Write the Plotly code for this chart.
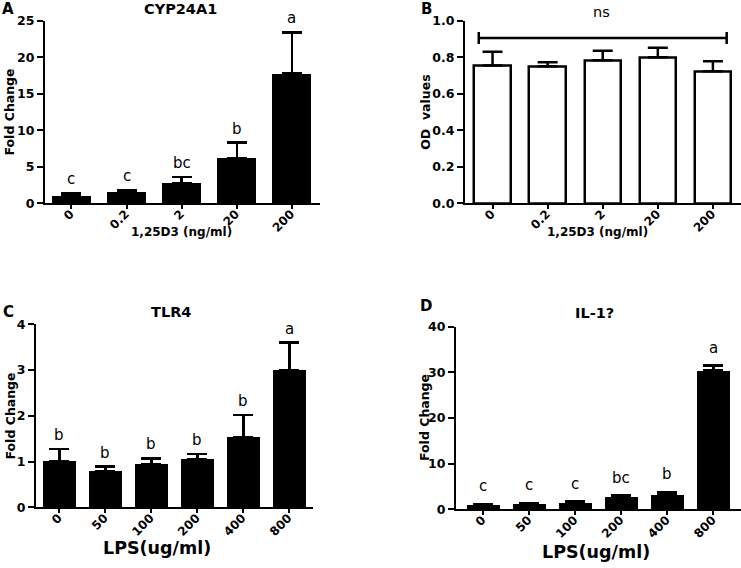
import plotly.graph_objects as go

W, H = 741, 568

# ---------------- data ----------------
A_cats = ["0", "0.2", "2", "20", "200"]
A_vals = [1.1, 1.6, 2.8, 6.2, 17.8]
A_err = [0.3, 0.2, 0.8, 2.1, 5.6]
A_letters = ["c", "c", "bc", "b", "a"]

B_cats = ["0", "0.2", "2", "20", "200"]
B_vals = [0.754, 0.750, 0.783, 0.800, 0.723]
B_err = [0.076, 0.022, 0.053, 0.052, 0.055]

C_cats = ["0", "50", "100", "200", "400", "800"]
C_vals = [1.01, 0.79, 0.95, 1.06, 1.53, 2.99]
C_err = [0.26, 0.10, 0.12, 0.10, 0.49, 0.61]
C_letters = ["b", "b", "b", "b", "b", "a"]

D_cats = ["0", "50", "100", "200", "400", "800"]
D_vals = [1.1, 1.2, 1.5, 2.7, 3.2, 30.4]
D_err = [0.1, 0.1, 0.2, 0.3, 0.6, 1.1]
D_letters = ["c", "c", "c", "bc", "b", "a"]

FONT = "DejaVu Sans"


def px_x(p):
    return p / W


def px_y(p):
    return 1 - p / H


def padded(cats):
    # left-pad with figure spaces so rotated labels end at the tick
    n = max(len(c.replace(".", "")) for c in cats)
    out = []
    for c in cats:
        digits = len(c.replace(".", ""))
        out.append("\u2007" * (n - digits) + c)
    return out


fig = go.Figure()


def add_bars(vals, err, xa, ya, fill, outline, width):
    fig.add_trace(go.Bar(
        x=list(range(len(vals))), y=vals, xaxis=xa, yaxis=ya,
        width=width,
        marker=dict(color=fill, line=dict(color=outline, width=2.5 if fill == "white" else 0)),
        error_y=dict(type="data", symmetric=False, array=err,
                     arrayminus=[0] * len(err), color="black",
                     thickness=2.5, width=10),
        showlegend=False, hoverinfo="skip"))


add_bars(A_vals, A_err, "x", "y", "black", "black", 0.71)
add_bars(B_vals, B_err, "x2", "y2", "white", "black", 0.66)
add_bars(C_vals, C_err, "x3", "y3", "black", "black", 0.71)
add_bars(D_vals, D_err, "x4", "y4", "black", "black", 0.71)

tickfont = dict(family=FONT, size=12.5, color="black", weight="bold")
xtickfont = dict(family=FONT, size=12, color="black", weight="bold")


def xax(domain_px, rng, cats):
    return dict(domain=[px_x(domain_px[0]), px_x(domain_px[1])], range=rng,
                tickvals=list(range(len(cats))), ticktext=padded(cats),
                tickangle=-45, tickfont=xtickfont,
                ticklabelstandoff=-7, ticklabelshift=-1,
                showline=True, linecolor="black", linewidth=2,
                ticks="outside", ticklen=4, tickwidth=2, tickcolor="black",
                showgrid=False, zeroline=False, fixedrange=True)


def yax(domain_px, rng, dtick, fmt=None):
    d = dict(domain=[px_y(domain_px[1]), px_y(domain_px[0])], range=rng,
             dtick=dtick, tick0=0, tickfont=tickfont,
             showline=True, linecolor="black", linewidth=2,
             ticks="outside", ticklen=6, tickwidth=2, tickcolor="black",
             showgrid=False, zeroline=False, fixedrange=True)
    if fmt:
        d["tickformat"] = fmt
    return d


fig.update_layout(
    template="none",
    width=W, height=H, margin=dict(l=0, r=0, t=0, b=0, autoexpand=False),
    paper_bgcolor="white", plot_bgcolor="white",
    bargap=0,
    xaxis=xax((45, 320), [-0.48, 4.51], A_cats),
    yaxis=yax((20.7, 203.3), [0, 25], 5),
    xaxis2=xax((465, 741), [-0.5, 4.51], B_cats),
    yaxis2=yax((20.7, 203.3), [0, 1.0], 0.2, ".1f"),
    xaxis3=xax((36, 312.7), [-0.51, 5.51], C_cats),
    yaxis3=yax((324.3, 507.3), [0, 4], 1),
    xaxis4=xax((456, 741), [-0.59, 5.6], D_cats),
    yaxis4=yax((326.7, 509.3), [0, 40], 10),
)
fig.layout.xaxis2.anchor = "y2"
fig.layout.yaxis2.anchor = "x2"
fig.layout.xaxis3.anchor = "y3"
fig.layout.yaxis3.anchor = "x3"
fig.layout.xaxis4.anchor = "y4"
fig.layout.yaxis4.anchor = "x4"

ann = []


def text(px, py, s, size, bold=True, angle=0):
    ann.append(dict(x=px_x(px), y=px_y(py), xref="paper", yref="paper",
                    text=s, showarrow=False, textangle=angle,
                    xanchor="center", yanchor="middle",
                    font=dict(family=FONT, size=size, color="black",
                              weight="bold" if bold else "normal")))


# panel letters
text(8, 9, "A", 15)
text(426, 9, "B", 15)
text(8, 312, "C", 15)
text(426, 306, "D", 15)
# titles
text(180.5, 9, "CYP24A1", 14.5)
text(171, 312, "TLR4", 14.5)
text(594.5, 313, "IL-1?", 14.5)
text(601, 12, "ns", 14.5, bold=False)
# y titles
text(9.5, 112, "Fold Change", 12.5, angle=-90)
text(425.8, 112, "OD\u00a0\u00a0values", 12.5, angle=-90)
text(9.5, 416, "Fold Change", 12.5, angle=-90)
text(424.5, 417.5, "Fold Change", 12.5, angle=-90)
# x titles
text(181, 232, "1,25D3 (ng/ml)", 12)
text(597, 232, "1,25D3 (ng/ml)", 12)
text(157, 548, "LPS(ug/ml)", 17.5)
text(596, 551.5, "LPS(ug/ml)", 17.5)


def letters(vals, err, labs, xr, yr, shift):
    for i, (v, e, l) in enumerate(zip(vals, err, labs)):
        ann.append(dict(x=i, y=v + e, xref=xr, yref=yr, text=l,
                        showarrow=False, xanchor="center", yanchor="bottom",
                        yshift=shift,
                        font=dict(family=FONT, size=15, color="#000000")))


letters(A_vals, A_err, A_letters, "x", "y", 3)
letters(C_vals, C_err, C_letters, "x3", "y3", 3)
letters(D_vals, D_err, D_letters, "x4", "y4", 7)

fig.update_layout(annotations=ann)

# ns bracket on panel B
shapes = [
    dict(type="line", xref="x2", yref="y2", x0=-0.25, x1=4.25, y0=0.905, y1=0.905,
         line=dict(color="black", width=2.5)),
    dict(type="line", xref="x2", yref="y2", x0=-0.25, x1=-0.25, y0=0.872, y1=0.938,
         line=dict(color="black", width=2.5)),
    dict(type="line", xref="x2", yref="y2", x0=4.25, x1=4.25, y0=0.872, y1=0.938,
         line=dict(color="black", width=2.5)),
]
fig.update_layout(shapes=shapes)

fig.write_html("out.html", config={"displayModeBar": False},
               post_script="document.body.style.margin='0';document.body.style.overflow='hidden';")
